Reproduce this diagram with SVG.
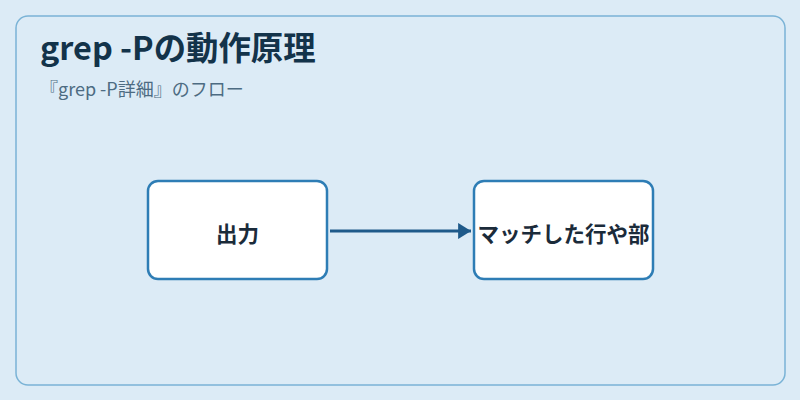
<svg xmlns="http://www.w3.org/2000/svg" width="800" height="400" viewBox="0 0 800 400">
<style>
.node rect{fill:#ffffff;stroke:#2e7db5;stroke-width:2.5}
.node text{font-family:"Noto Sans CJK JP","Noto Sans",sans-serif;font-size:21.5px;font-weight:bold;fill:#1b2b3a;text-anchor:middle;dominant-baseline:central}
.title{font-family:"Noto Sans CJK JP","Noto Sans",sans-serif;font-size:32.4px;font-weight:bold;fill:#13334a}
.sub{font-family:"Noto Sans CJK JP","Noto Sans",sans-serif;font-size:18px;fill:#4d6b82}
</style>
<defs>
<marker id="arr" viewBox="0 0 8 10" refX="8" refY="5" markerWidth="4.3" markerHeight="5.4" orient="auto" markerUnits="strokeWidth">
<path d="M0,0 L8,5 L0,10 z" fill="#1f5a8a"/>
</marker>
</defs>
<rect x="0" y="0" width="800" height="400" fill="#dcebf6"/>
<rect x="16" y="16" width="769" height="369" rx="12" fill="#dcebf6" stroke="#7ab3d6" stroke-width="1.5"/>
<text class="title" x="40" y="60">grep -Pの動作原理</text>
<text class="sub" x="40" y="96">『grep -P詳細』のフロー</text>
<g id="connectors">
<line x1="330" y1="231" x2="471" y2="231" stroke="#1f5a8a" stroke-width="3" marker-end="url(#arr)"/>
</g>
<g id="node1" class="node">
<rect x="148" y="181" width="179" height="98" rx="10"/>
<text x="237.5" y="232">出力</text>
</g>
<g id="node2" class="node">
<rect x="474" y="181" width="179" height="98" rx="10"/>
<text x="563.5" y="232">マッチした行や部</text>
</g>
</svg>
